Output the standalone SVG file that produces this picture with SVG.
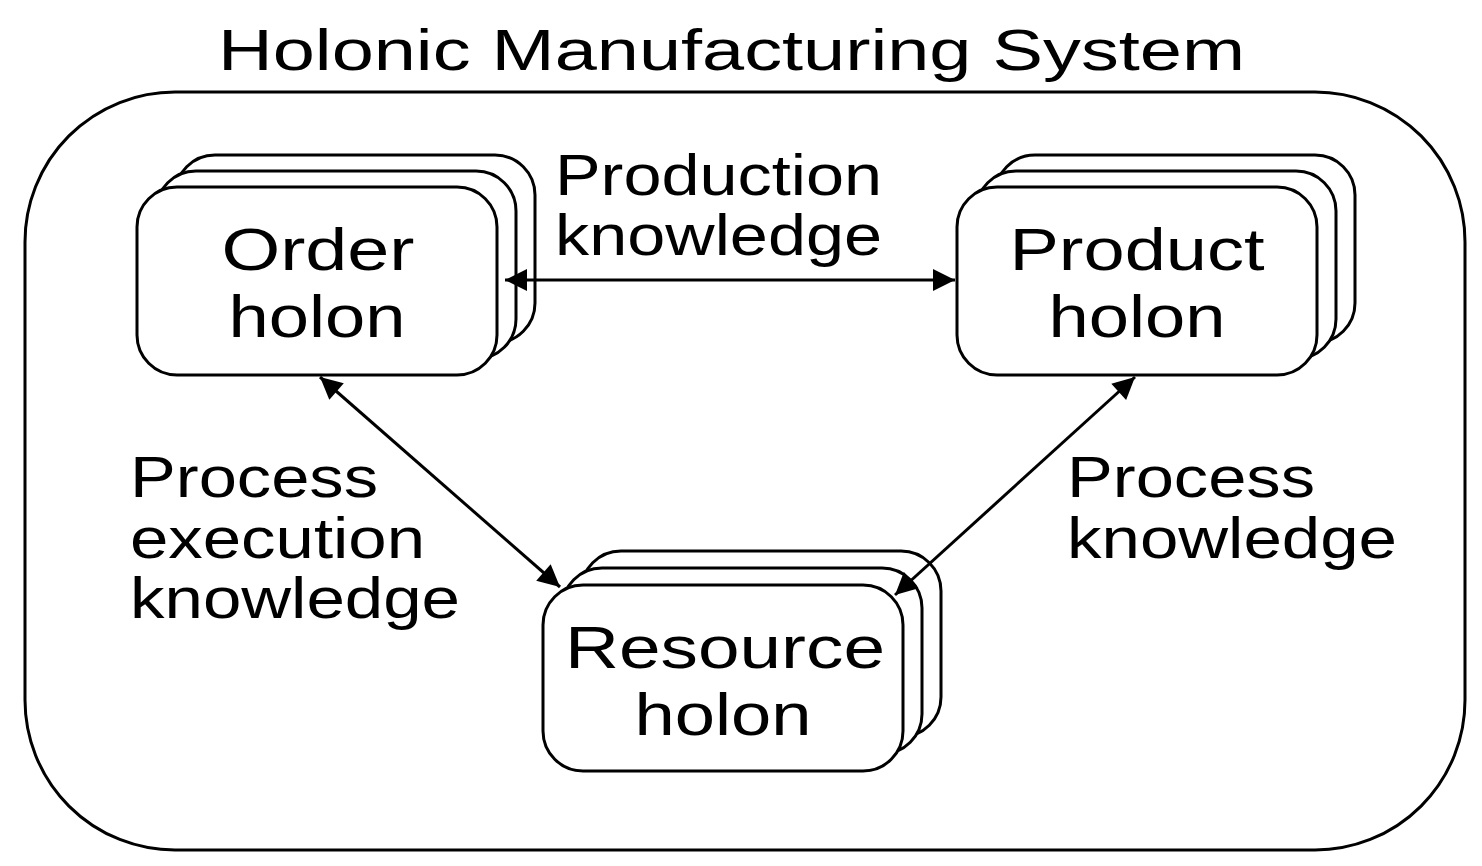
<svg xmlns="http://www.w3.org/2000/svg" width="1482" height="866" viewBox="0 0 1482 866">
<style>
.b{fill:#fff;stroke:#000;stroke-width:3}
.t{font-family:"Liberation Sans",Arial,sans-serif;font-size:58px;fill:#000}
.c{text-anchor:middle;font-size:60px}
</style>
<defs>
<marker id="m" viewBox="0 0 10 10" refX="10" refY="5" markerWidth="28" markerHeight="22" markerUnits="userSpaceOnUse" orient="auto-start-reverse"><path d="M0,0 L10,5 L0,10 z" fill="#000"/></marker></defs>
<rect x="0" y="0" width="1482" height="866" fill="#fff"/>
<text class="t" x="218" y="70" textLength="1027" lengthAdjust="spacingAndGlyphs">Holonic Manufacturing System</text>
<rect class="b" x="25" y="92" width="1440" height="758" rx="150"/>
<g id="order">
<rect class="b" x="175" y="155" width="360" height="188" rx="40"/>
<rect class="b" x="156" y="171" width="360" height="188" rx="40"/>
<rect class="b" x="137" y="187" width="360" height="188" rx="40"/>
<text class="t c" x="318" y="270" textLength="193" lengthAdjust="spacingAndGlyphs">Order</text><text class="t c" x="317" y="337" textLength="177" lengthAdjust="spacingAndGlyphs">holon</text>
</g>
<g id="product">
<rect class="b" x="995" y="155" width="360" height="188" rx="40"/>
<rect class="b" x="976" y="171" width="360" height="188" rx="40"/>
<rect class="b" x="957" y="187" width="360" height="188" rx="40"/>
<text class="t c" x="1137" y="270" textLength="255" lengthAdjust="spacingAndGlyphs">Product</text><text class="t c" x="1137" y="337" textLength="177" lengthAdjust="spacingAndGlyphs">holon</text>
</g>
<g id="resource">
<rect class="b" x="581" y="551" width="360" height="186" rx="40"/>
<rect class="b" x="562" y="568" width="360" height="186" rx="40"/>
<rect class="b" x="543" y="585" width="360" height="186" rx="40"/>
<text class="t c" x="725" y="668" textLength="320" lengthAdjust="spacingAndGlyphs">Resource</text><text class="t c" x="723" y="735" textLength="177" lengthAdjust="spacingAndGlyphs">holon</text>
</g>
<g id="connectors" stroke="#000" stroke-width="3" fill="none">
<line x1="505" y1="280" x2="955" y2="280" marker-start="url(#m)" marker-end="url(#m)"/>
<line x1="320" y1="377" x2="560" y2="587" marker-start="url(#m)" marker-end="url(#m)"/>
<line x1="1135" y1="377" x2="895" y2="595" marker-start="url(#m)" marker-end="url(#m)"/>
</g>
<g id="labels">
<text class="t" x="555" y="195" textLength="327" lengthAdjust="spacingAndGlyphs">Production</text><text class="t" x="555" y="255" textLength="327" lengthAdjust="spacingAndGlyphs">knowledge</text>
<text class="t" x="130" y="497" textLength="248" lengthAdjust="spacingAndGlyphs">Process</text><text class="t" x="130" y="558" textLength="295" lengthAdjust="spacingAndGlyphs">execution</text><text class="t" x="130" y="618" textLength="330" lengthAdjust="spacingAndGlyphs">knowledge</text>
<text class="t" x="1067" y="497" textLength="248" lengthAdjust="spacingAndGlyphs">Process</text><text class="t" x="1067" y="558" textLength="330" lengthAdjust="spacingAndGlyphs">knowledge</text>
</g>
</svg>
